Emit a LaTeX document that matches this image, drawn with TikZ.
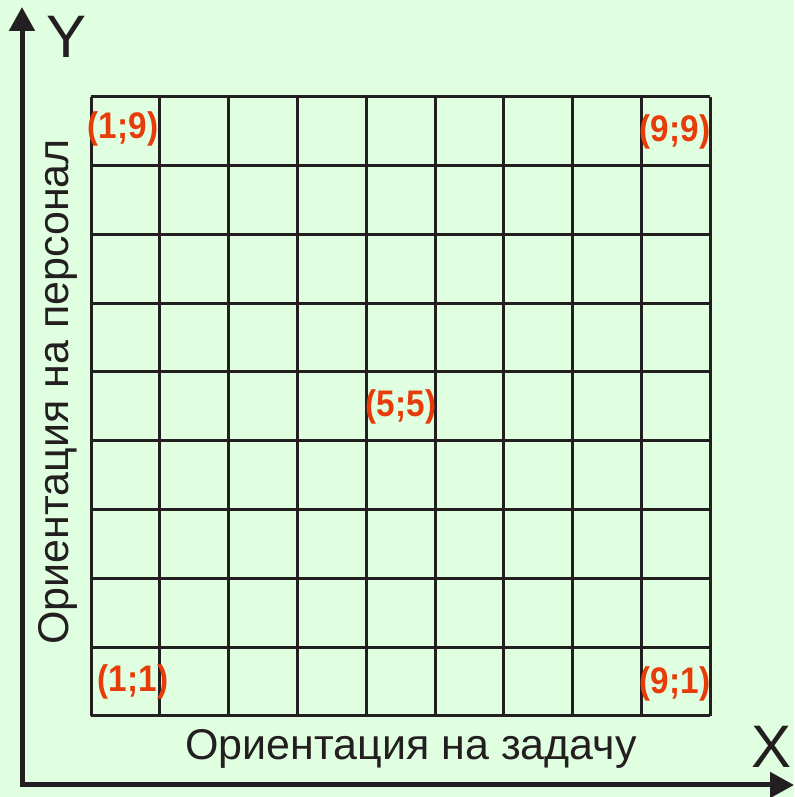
\documentclass[tikz,border=0pt]{standalone}
\usepackage{fontspec}
\setmainfont{Liberation Sans}
\usetikzlibrary{arrows.meta}
\definecolor{mxBack}{RGB}{224,255,224}
\definecolor{mxLine}{RGB}{35,31,32}
\definecolor{mxLabel}{RGB}{230,60,10}

\tikzset{
  gridline/.style={mxLine, line width=1.5pt},
  axisline/.style={mxLine, line width=2.5pt},
  axistip/.tip={Triangle[width=12.5pt,length=12pt]},
  cornerlbl/.style={text=mxLabel, inner sep=0pt,
    font=\fontsize{18.5}{20}\selectfont\bfseries},
  axislbl/.style={text=mxLine, inner sep=0pt,
    font=\fontsize{21.5}{24}\selectfont},
  letterlbl/.style={text=mxLine, inner sep=0pt,
    font=\fontsize{30}{32}\selectfont}
}

\begin{document}
\begin{tikzpicture}[x=0.5pt,y=0.5pt]
  % Background
  \fill[mxBack] (0,0) rectangle (794,797);
  \useasboundingbox (0,0) rectangle (794,797);

  % Axes
  \coordinate (yEnd) at (22,790);
  \coordinate (xEnd) at (794,12);
  \draw[axisline, axistip-axistip] (yEnd) |- (xEnd);
  \node[letterlbl] (yLetter) at (67,760) {Y};
  \node[letterlbl] (xLetter) at (771,50) {X};

  % Grid 9x9
  \foreach \i in {0,...,9} {
    \draw[gridline] (91+\i*68.8,81) -- (91+\i*68.8,700);
    \draw[gridline] (91,81+\i*68.8) -- (710,81+\i*68.8);
  }

  % Corner and centre labels
  \node[cornerlbl] (lblA) at (123,668) {\scalebox{0.9}[1]{(1;9)}};
  \node[cornerlbl] (lblB) at (675,665) {\scalebox{0.9}[1]{(9;9)}};
  \node[cornerlbl] (lblC) at (401,390) {\scalebox{0.9}[1]{(5;5)}};
  \node[cornerlbl] (lblD) at (133,115) {\scalebox{0.9}[1]{(1;1)}};
  \node[cornerlbl] (lblE) at (675,113) {\scalebox{0.9}[1]{(9;1)}};

  % Axis titles
  \node[axislbl, anchor=base west] (xTitle) at (185,37) {Ориентация на задачу};
  \node[axislbl, anchor=base west, rotate=90] (yTitle) at (68,152) {Ориентация на персонал};
\end{tikzpicture}
\end{document}
